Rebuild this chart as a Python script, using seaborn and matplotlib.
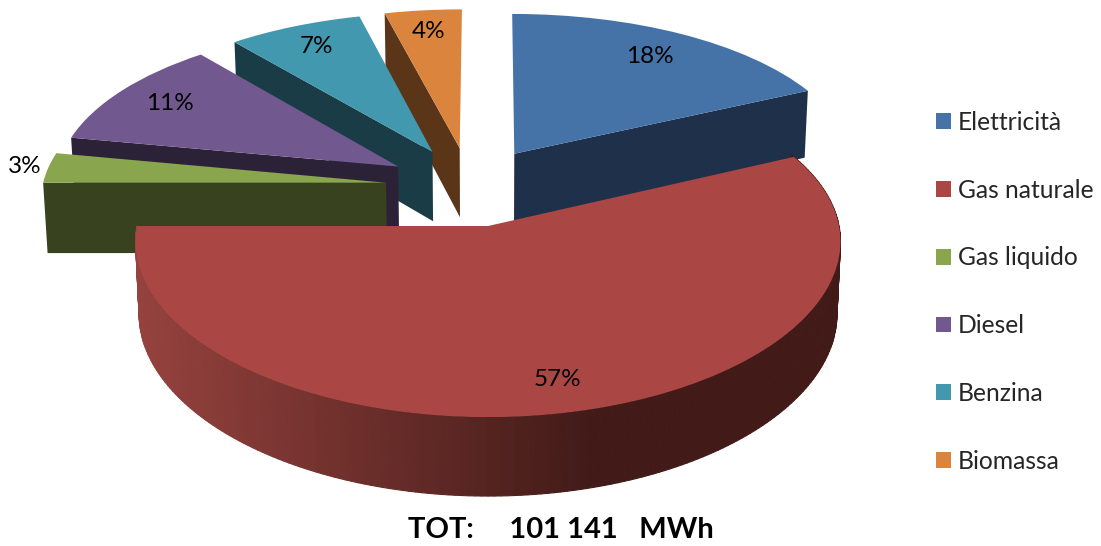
import numpy as np
import matplotlib
matplotlib.use("Agg")
import matplotlib.pyplot as plt
import matplotlib.transforms as mtrans
from matplotlib.collections import PolyCollection
import matplotlib.colors as mcolors
import seaborn as sns

categories = ["Elettricità", "Gas naturale", "Gas liquido", "Diesel", "Benzina", "Biomassa"]
shares = [18, 57, 3, 11, 7, 4]
top_colors = ["#4572A7", "#AA4643", "#89A54E", "#71588F", "#4198AF", "#DB843D"]
side_colors = ["#1F304A", "#7A3230", "#39421F", "#2C2238", "#1A3C47", "#5A3517"]
label_reach = [0.80, 0.84, 1.07, 0.82, 0.83, 0.83]
draw_rank = [5, 6, 4, 3, 2, 1]
total_text = "TOT:     101 141   MWh"

EXPLODE = 0.245
CX, CY, RX, RY, BX, BY, DEPTH = 488.0, 226.0, 351.0, 170.0, 0.09, 0.11, 72.0
U0, V0 = 0.0534, -0.239
SHRINK = 0.99


def project(xy, drop=False):
    xy = np.atleast_2d(xy)
    u = xy[:, 0] - U0
    v = xy[:, 1] - V0
    sx = CX + RX * u / (1 + BX * v)
    sy = CY - RY * v / (1 + BY * v)
    if drop:
        sx = CX + (sx - CX) * SHRINK
        sy = sy + DEPTH / (1 + BY * v) ** 0.8
    return np.column_stack([sx, sy])


class Perspective(mtrans.Transform):
    input_dims = 2
    output_dims = 2
    is_separable = False
    has_inverse = False

    def transform_non_affine(self, values):
        return project(values)


sns.set_theme(style="white")
plt.rcParams["font.family"] = ["Lato", "DejaVu Sans"]

fig = plt.figure(figsize=(11.01, 5.46), dpi=100)
ax = fig.add_axes([0, 0, 1, 1])
wedges, _ = ax.pie(shares, colors=sns.color_palette(top_colors), startangle=90,
                   counterclock=False, explode=[EXPLODE] * len(shares), radius=1)
ax.set_aspect("auto")
ax.set_xlim(0, 1101)
ax.set_ylim(546, 0)
ax.axis("off")

proj = Perspective()
rim_left, rim_right = np.array(mcolors.to_rgb("#96423E")), np.array(mcolors.to_rgb("#421B18"))

for w, side, rank, reach, share in zip(wedges, side_colors, draw_rank, label_reach, shares):
    w.set_transform(proj + ax.transData)
    w.set_zorder(rank + 0.5)
    w.set_edgecolor("none")
    w.set_linewidth(0)
    c = np.array(w.center)
    mid = np.radians((w.theta1 + w.theta2) / 2)
    if np.sin(mid) < 0:
        angles = np.radians(np.arange(w.theta1, w.theta2 + 1, 1.0))
        rim = c + np.column_stack([np.cos(angles), np.sin(angles)])
        top, low = project(rim), project(rim, drop=True)
        polys, cols = [], []
        for i in range(len(rim) - 1):
            polys.append([top[i], top[i + 1], low[i + 1], low[i]])
            t = np.clip((0.5 * (top[i][0] + top[i + 1][0]) - 137) / (590 - 137), 0, 1)
            cols.append(rim_left + (rim_right - rim_left) * t)
        ax.add_collection(PolyCollection(polys, facecolors=cols, edgecolors=cols,
                                         linewidths=0.8, zorder=rank))
    else:
        edge = w.theta1 if np.cos(mid) > 0 else w.theta2
        e = np.radians(edge)
        seg = np.array([c, c + [np.cos(e), np.sin(e)]])
        top, low = project(seg), project(seg, drop=True)
        ax.fill([top[0][0], top[1][0], low[1][0], low[0][0]],
                [top[0][1], top[1][1], low[1][1], low[0][1]],
                color=side, lw=0, zorder=rank)
    pos = project(c + reach * np.array([np.cos(mid), np.sin(mid)]))[0]
    ax.text(pos[0], pos[1], f"{share}%", ha="center", va="center",
            fontsize=17.5, color="black", zorder=10)

ax.text(561, 530, total_text, ha="center", va="center", fontsize=21,
        fontweight="bold", color="black", zorder=10)

leg = ax.legend(wedges, categories, loc="upper left", bbox_to_anchor=(936 / 1101, 1 - 111 / 546),
                frameon=False, fontsize=17.7, handlelength=0.61, handleheight=0.61,
                labelspacing=1.82, handletextpad=0.28, borderpad=0, borderaxespad=0)
fig.savefig("out.png", dpi=100, facecolor="white")
